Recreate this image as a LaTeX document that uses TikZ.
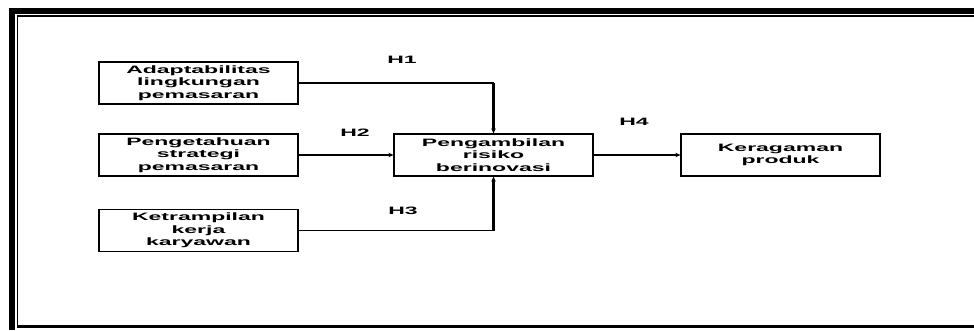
\documentclass[tikz,border=0pt]{standalone}
\usepackage{fontspec}
\setmainfont{Liberation Sans}[FakeStretch=2.15]
\usetikzlibrary{arrows.meta}
\tikzset{
  box/.style={draw, line width=1.2pt, minimum width=199pt, minimum height=42pt,
    inner sep=0pt, align=center, font=\bfseries\fontsize{10.7}{12.5}\selectfont},
  hlabel/.style={font=\bfseries\fontsize{10.7}{12.5}\selectfont},
  link/.style={line width=1.3pt},
  vlink/.style={line width=2.4pt},
  tip/.style={-{Stealth[length=5pt,width=4.5pt]}}
}
\begin{document}
\begin{tikzpicture}[x=1pt,y=-1pt]
  \useasboundingbox (0,0) rectangle (974,330);

  % Frame
  \draw[line width=6pt] (12,330) -- (12,11) -- (974,11);
  \draw[line width=1.5pt] (974,16) -- (17.5,16) -- (17.5,326.5);
  \draw[line width=2.5pt] (16.75,326.5) -- (974,326.5);

  % Boxes
  \node[box] (adapt) at (198.5,83) {Adaptabilitas\\lingkungan\\pemasaran};
  \node[box] (strat) at (198.5,155) {Pengetahuan\\strategi\\pemasaran};
  \node[box] (skill) at (198.5,230.5) {Ketrampilan\\kerja\\karyawan};
  \node[box] (risk) at (493.5,155) {Pengambilan\\risiko\\berinovasi};
  \node[box] (variety) at (780.5,155) {Keragaman\\produk};

  % Corners
  \coordinate (c1) at (adapt.east -| risk.north);
  \coordinate (c3) at (skill.east -| risk.south);

  % Links
  \draw[link] (adapt.east) -- (c1);
  \draw[vlink, tip] (c1) -- (risk.north);
  \draw[link, tip] (strat.east) -- (risk.west);
  \draw[link] (skill.east) -- (c3);
  \draw[vlink, tip] (c3) -- (risk.south);
  \draw[link, tip] (risk.east) -- (variety.west);

  % Labels
  \node[hlabel] (h1) at (402,60) {H1};
  \node[hlabel] (h2) at (355,132.5) {H2};
  \node[hlabel] (h3) at (403,211) {H3};
  \node[hlabel] (h4) at (634,122) {H4};
\end{tikzpicture}
\end{document}
